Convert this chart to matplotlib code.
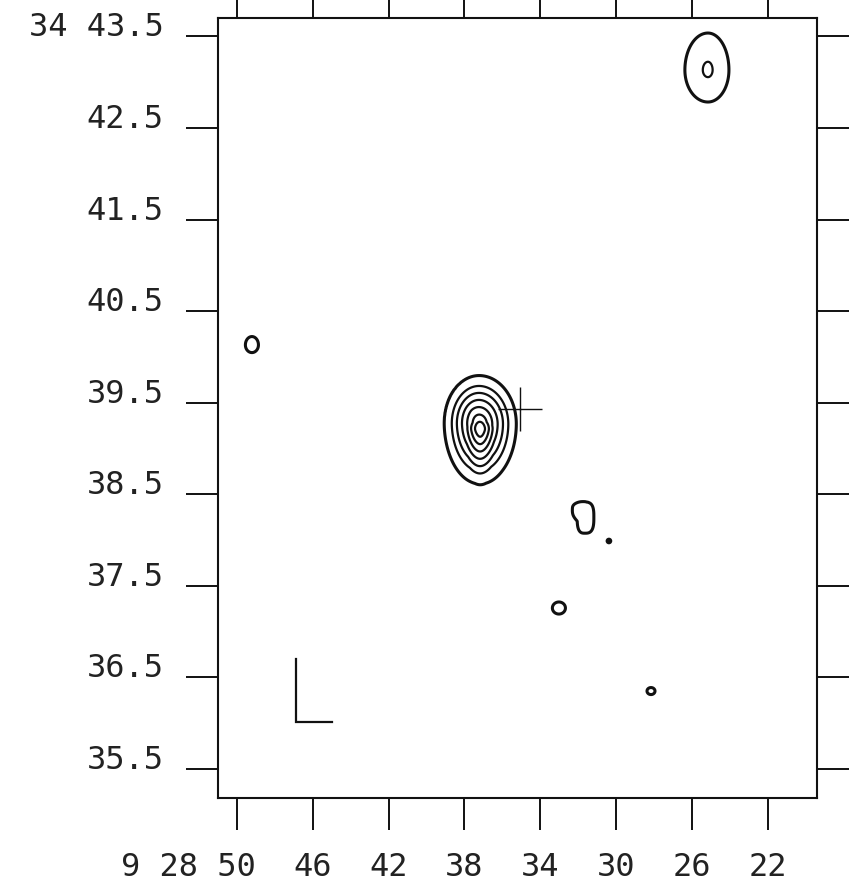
import numpy as np
import matplotlib
matplotlib.use("Agg")
import matplotlib.pyplot as plt
from matplotlib.transforms import ScaledTranslation

# brightness model: sum of peaked components with separate E/W/N/S radii
# ra: seconds after 9h28m, dec: arcmin after +34d, radii in arcsec
comp_ra = [37.18, 37.60, 37.15, 25.145, 49.21, 31.64, 31.95, 33.01, 28.15, 30.37]
comp_dec = [39.257, 39.40, 39.20, 43.134, 40.131, 38.25, 38.34, 37.258, 36.351, 37.99]
comp_amp = [0.66, 0.09, 0.12, 0.243, 0.10, 0.10, 0.07, 0.10, 0.10, 0.055]
comp_re = [23.5, 36.0, 9.0, 18.9, 8.5, 10.0, 8.0, 8.5, 5.2, 13.0]
comp_rw = [25.0, 36.0, 9.0, 17.2, 8.5, 11.7, 8.0, 8.5, 5.2, 13.0]
comp_rn = [32.8, 46.0, 6.0, 30.5, 11.0, 19.7, 5.0, 7.9, 4.6, 13.0]
comp_rs = [41.9, 46.0, 38.0, 26.4, 10.0, 21.0, 8.0, 7.9, 4.6, 13.0]
comp_p = [2.0, 2.0, 2.0, 2.0, 2.0, 3.0, 3.0, 2.0, 2.0, 2.0]

levels = [0.05, 0.2, 0.3, 0.4, 0.5, 0.6, 0.7]

# optical position and beam bar
cross_ra, cross_dec = 35.07, 39.432
beam_ra = [46.89, 46.89, 44.99]
beam_dec = [36.70, 36.013, 36.013]

ra_ticks = [50, 46, 42, 38, 34, 30, 26, 22]
ra_labels = ['9 28 50', '46', '42', '38', '34', '30', '26', '22']
dec_ticks = [43.5, 42.5, 41.5, 40.5, 39.5, 38.5, 37.5, 36.5, 35.5]
dec_labels = ['34 43.5', '42.5', '41.5', '40.5', '39.5', '38.5', '37.5', '36.5', '35.5']

ra_lim = (51.00, 19.39)
dec_lim = (35.183, 43.702)

cosd = np.cos(np.radians(34.67))
ra = np.linspace(ra_lim[1], ra_lim[0], 1000)
dec = np.linspace(dec_lim[0], dec_lim[1], 1200)
RA, DEC = np.meshgrid(ra, dec)
field = np.zeros_like(RA)
for r0, d0, a, re, rw, rn, rs, p in zip(comp_ra, comp_dec, comp_amp, comp_re,
                                         comp_rw, comp_rn, comp_rs, comp_p):
    dx = (RA - r0) * 15 * cosd          # positive towards east (left)
    dy = (DEC - d0) * 60
    u = np.abs(dx) / np.where(dx > 0, re, rw)
    v = np.abs(dy) / np.where(dy > 0, rn, rs)
    rho = (u ** p + v ** p) ** (1.0 / p)
    field += a * np.clip(1 - rho, 0, None)

fig = plt.figure(figsize=(8.53, 8.88), dpi=100, facecolor='white')
ax = fig.add_axes([218 / 853, 90 / 888, 599 / 853, 780 / 888])

lw = [2.2] + [1.6] * (len(levels) - 1)
ax.contour(RA, DEC, field, levels=levels, colors='#111111', linewidths=lw)

ax.plot([cross_ra], [cross_dec], marker='+', markersize=31, mew=1.0, color='#111111')
ax.plot(beam_ra, beam_dec, color='#111111', lw=1.6, solid_joinstyle='miter')

ax.set_xlim(*ra_lim)
ax.set_ylim(*dec_lim)
ax.set_xticks(ra_ticks, ra_labels)
ax.set_yticks(dec_ticks, dec_labels)

ax.tick_params(direction='out', length=23, width=1.4, color='#111111',
               top=True, right=True, labelsize=23, pad=16)
for sp in ax.spines.values():
    sp.set_linewidth(1.5)
    sp.set_color('#111111')

for lab in ax.get_xticklabels() + ax.get_yticklabels():
    lab.set_family('DejaVu Sans Mono')
    lab.set_color('#222222')
for lab in ax.get_yticklabels():
    lab.set_va('baseline')

# the first RA label carries the hours/minutes prefix: keep "50" on its tick
first = ax.get_xticklabels()[0]
first.set_ha('right')
char_w = 0.602 * 23 / 72
first.set_transform(first.get_transform() + ScaledTranslation(char_w, 0, fig.dpi_scale_trans))

fig.savefig('out.png', dpi=100, facecolor='white')
